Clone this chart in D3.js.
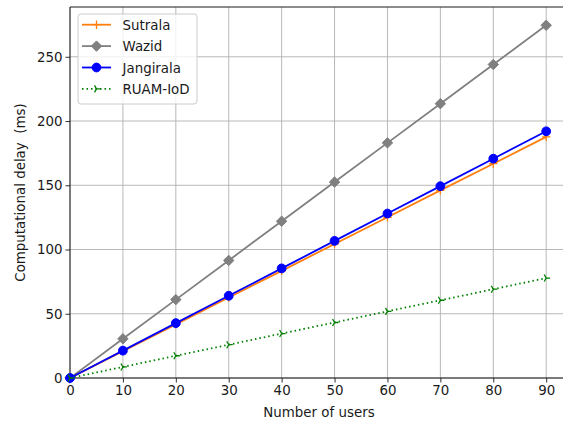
<!DOCTYPE html>
<html><head><meta charset="utf-8">
<script src="https://cdn.jsdelivr.net/npm/d3@7"></script>
<style>body{margin:0;background:#fff}svg{display:block;font-family:"DejaVu Sans",sans-serif}</style>
</head><body><svg id="c" width="563" height="421"></svg>
<script>
const users = [0, 10, 20, 30, 40, 50, 60, 70, 80, 90];
const sutrala = [0, 20.9, 41.7, 62.6, 83.4, 104.3, 125.1, 146.0, 166.8, 187.7];
const wazid = [0, 30.5, 61.0, 91.5, 122.0, 152.5, 183.0, 213.5, 244.0, 274.5];
const jangirala = [0, 21.3, 42.7, 64.0, 85.3, 106.7, 128.0, 149.3, 170.7, 192.0];
const ruam = [0, 8.6, 17.3, 25.9, 34.6, 43.2, 51.9, 60.5, 69.1, 77.8];
const xTicks = [0, 10, 20, 30, 40, 50, 60, 70, 80, 90];
const yTicks = [0, 50, 100, 150, 200, 250];
const seriesNames = ["Sutrala", "Wazid", "Jangirala", "RUAM-IoD"];
const seriesData = [sutrala, wazid, jangirala, ruam];
const seriesColors = ["#ff7f0e", "#808080", "#0000ff", "#008000"];
const seriesMarkers = ["plus", "diamond", "circle", "tri"];
const seriesDash = [null, null, null, "1.5,3"];

const FS = 13.4;
const svg = d3.select("#c");
const L = 70, R = 570, T = 7, B = 378;
const x = d3.scaleLinear().domain([0, 94.5]).range([L, R]);
const y = d3.scaleLinear().domain([0, 288.75]).range([B, T]);

const clip = svg.append("defs").append("clipPath").attr("id","clp");
clip.append("rect").attr("x", L).attr("y", T).attr("width", R-L).attr("height", B-T);

// grid
const g = svg.append("g");
g.selectAll(".gx").data(xTicks).enter().append("line")
  .attr("x1", d=>x(d)).attr("x2", d=>x(d)).attr("y1", T).attr("y2", B)
  .attr("stroke", "#b0b0b0").attr("stroke-width", 0.9);
g.selectAll(".gy").data(yTicks).enter().append("line")
  .attr("x1", L).attr("x2", R).attr("y1", d=>y(d)).attr("y2", d=>y(d))
  .attr("stroke", "#b0b0b0").attr("stroke-width", 0.9);

// axes
const xa = svg.append("g").attr("transform", `translate(0,${B})`)
  .call(d3.axisBottom(x).tickValues(xTicks).tickSize(4.5).tickPadding(3).tickFormat(d3.format("d")));
const ya = svg.append("g").attr("transform", `translate(${L},0)`)
  .call(d3.axisLeft(y).tickValues(yTicks).tickSize(4.5).tickPadding(3).tickFormat(d3.format("d")));
[xa, ya].forEach(a => {
  a.select(".domain").remove();
  a.selectAll("text").attr("font-size", FS).attr("fill", "#1a1a1a").attr("font-family", "DejaVu Sans");
  a.selectAll("line").attr("stroke", "#1a1a1a").attr("stroke-width", 0.9);
});
svg.append("line").attr("x1", L).attr("x2", L).attr("y1", T).attr("y2", B).attr("stroke", "#1a1a1a").attr("stroke-width", 1);
svg.append("line").attr("x1", L).attr("x2", R).attr("y1", B).attr("y2", B).attr("stroke", "#1a1a1a").attr("stroke-width", 1);
svg.append("line").attr("x1", L).attr("x2", R).attr("y1", T).attr("y2", T).attr("stroke", "#1a1a1a").attr("stroke-width", 1);

svg.append("text").attr("x", 319).attr("y", 417).attr("text-anchor", "middle")
  .attr("font-size", FS).attr("fill", "#1a1a1a").text("Number of users");
svg.append("text").attr("transform", `translate(24.5,${(T+B)/2}) rotate(-90)`).attr("text-anchor", "middle")
  .attr("font-size", FS).attr("fill", "#1a1a1a").attr("xml:space","preserve").text("Computational delay  (ms)");

function marker(sel, type, color) {
  if (type === "plus") {
    sel.append("path").attr("d", "M-4.2,0H4.2M0,-4.2V4.2").attr("stroke", color).attr("stroke-width", 1.3).attr("fill", "none");
  } else if (type === "diamond") {
    sel.append("path").attr("d", "M0,-5.2L5.2,0L0,5.2L-5.2,0Z").attr("fill", color).attr("stroke", color).attr("stroke-width", 1);
  } else if (type === "circle") {
    sel.append("circle").attr("r", 4.4).attr("fill", color).attr("stroke", color).attr("stroke-width", 1);
  } else if (type === "tri") {
    sel.append("path").attr("d", "M0,0H4M0,0L-2,-3.5M0,0L-2,3.5").attr("stroke", color).attr("stroke-width", 1.3).attr("fill", "none");
  }
}

const plot = svg.append("g").attr("clip-path", "url(#clp)");
const line = d3.line().x((d,i)=>x(users[i])).y(d=>y(d));
seriesData.forEach((s, k) => {
  plot.append("path").datum(s).attr("d", line).attr("fill", "none")
    .attr("stroke", seriesColors[k]).attr("stroke-width", 1.8)
    .attr("stroke-dasharray", seriesDash[k]);
});
const markerLayer = svg.append("g");
seriesData.forEach((s, k) => {
  s.forEach((v, i) => {
    const m = markerLayer.append("g").attr("transform", `translate(${x(users[i])},${y(v)})`);
    marker(m, seriesMarkers[k], seriesColors[k]);
  });
});

// legend
const lg = svg.append("g").attr("transform", "translate(78,14)");
lg.append("rect").attr("width", 119).attr("height", 90).attr("rx", 3)
  .attr("fill", "#fff").attr("fill-opacity", 0.8).attr("stroke", "#cccccc").attr("stroke-width", 1);
seriesNames.forEach((n, k) => {
  const yy = 10.7 + k * 21.4;
  lg.append("line").attr("x1", 4).attr("x2", 33).attr("y1", yy).attr("y2", yy)
    .attr("stroke", seriesColors[k]).attr("stroke-width", 1.8).attr("stroke-dasharray", seriesDash[k]);
  const m = lg.append("g").attr("transform", `translate(18.5,${yy})`);
  marker(m, seriesMarkers[k], seriesColors[k]);
  lg.append("text").attr("x", 44.5).attr("y", yy + 5).attr("font-size", FS).attr("fill", "#1a1a1a").text(n);
});
</script></body></html>
